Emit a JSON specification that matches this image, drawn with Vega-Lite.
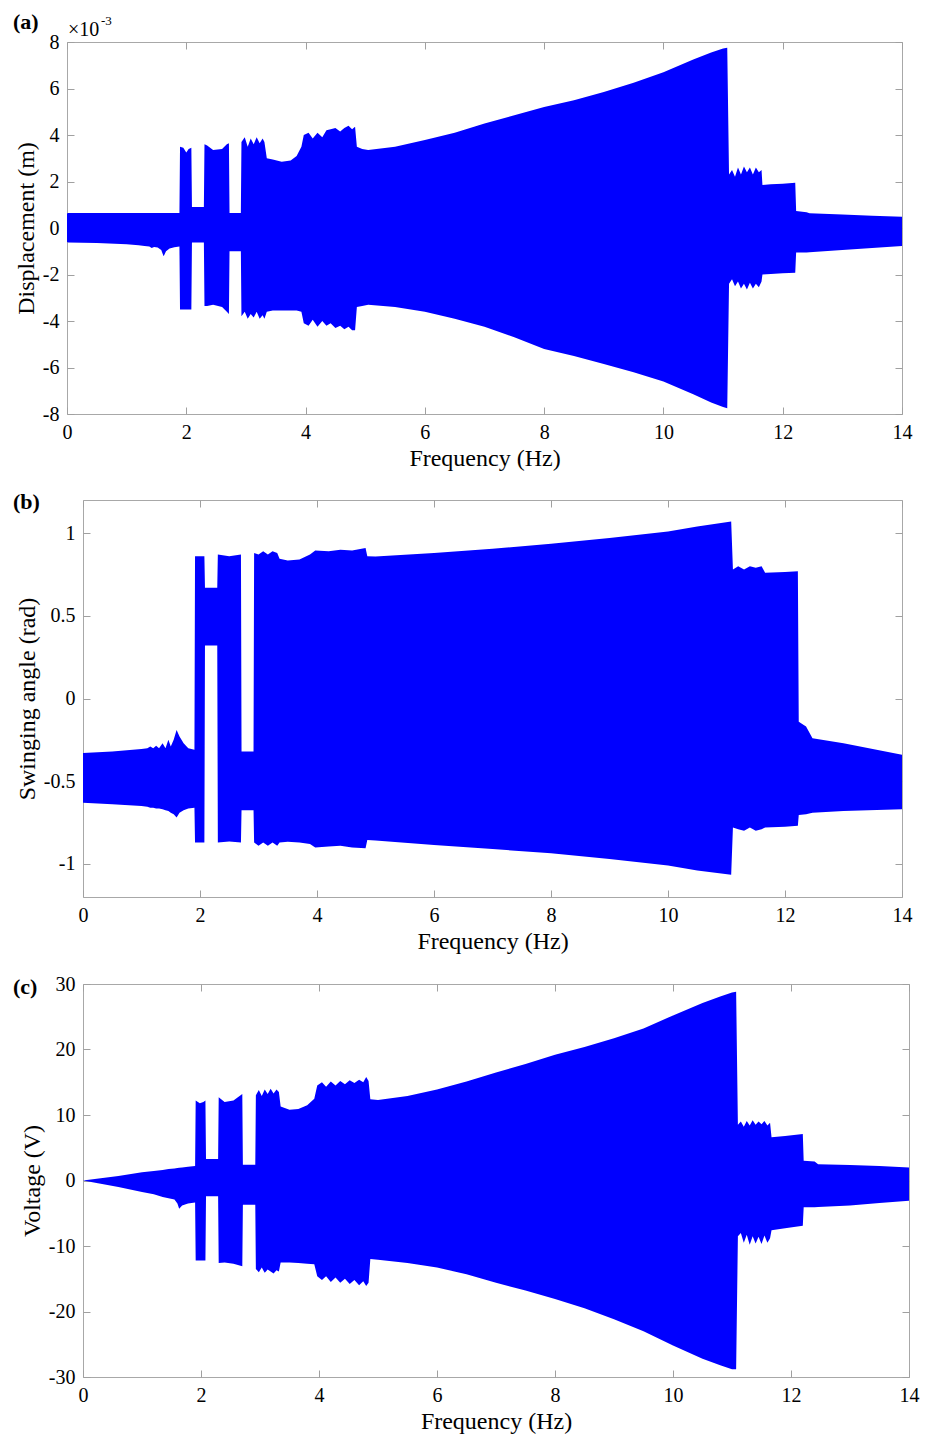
{
"$schema": "https://vega.github.io/schema/vega-lite/v6.json",
"padding": {"left": 11, "top": 10, "right": 5, "bottom": 5},
"background": "white",
"config": {
  "font": "Liberation Serif",
  "view": {"stroke": "#a8a8a8", "strokeWidth": 1},
  "axis": {"domain": false, "grid": false, "ticks": true, "tickSize": -7, "tickColor": "#a0a0a0", "tickWidth": 1,
    "labelFont": "Liberation Serif", "labelFontSize": 20, "labelColor": "#000000", "labelPadding": 15, "labelFlush": false,
    "titleFont": "Liberation Serif", "titleFontSize": 24, "titleFontWeight": "normal", "titleColor": "#000000", "titlePadding": 4,
    "labelExpr": "datum.value + ''"},
  "text": {"font": "Liberation Serif", "color": "#000000"}
},
"datasets": {
"a": [
{"f":0,"hi":0.62,"lo":-0.6},{"f":0.02,"hi":0.65,"lo":-0.62},{"f":0.5,"hi":0.65,"lo":-0.64},{"f":1.0,"hi":0.65,"lo":-0.7},{"f":1.2,"hi":0.65,"lo":-0.74},{"f":1.3,"hi":0.65,"lo":-0.77},{"f":1.38,"hi":0.65,"lo":-0.8},{"f":1.42,"hi":0.65,"lo":-0.86},{"f":1.46,"hi":0.65,"lo":-0.82},{"f":1.52,"hi":0.65,"lo":-0.84},{"f":1.58,"hi":0.65,"lo":-0.95},{"f":1.62,"hi":0.65,"lo":-1.22},{"f":1.66,"hi":0.65,"lo":-1.0},{"f":1.72,"hi":0.65,"lo":-0.88},{"f":1.8,"hi":0.65,"lo":-0.83},{"f":1.885,"hi":0.65,"lo":-0.8},
{"f":1.895,"hi":3.5,"lo":-3.5},{"f":1.95,"hi":3.45,"lo":-3.5},{"f":2.0,"hi":3.25,"lo":-3.5},{"f":2.04,"hi":3.4,"lo":-3.5},{"f":2.085,"hi":3.45,"lo":-3.5},
{"f":2.095,"hi":0.9,"lo":-0.62},{"f":2.295,"hi":0.9,"lo":-0.62},
{"f":2.305,"hi":3.6,"lo":-3.35},{"f":2.35,"hi":3.55,"lo":-3.35},{"f":2.45,"hi":3.35,"lo":-3.3},{"f":2.6,"hi":3.4,"lo":-3.4},{"f":2.68,"hi":3.6,"lo":-3.6},{"f":2.715,"hi":3.65,"lo":-3.7},
{"f":2.725,"hi":0.65,"lo":-1.0},{"f":2.915,"hi":0.65,"lo":-1.0},
{"f":2.925,"hi":3.7,"lo":-3.8},{"f":2.98,"hi":3.9,"lo":-3.6},{"f":3.03,"hi":3.5,"lo":-3.9},{"f":3.08,"hi":3.85,"lo":-3.7},{"f":3.13,"hi":3.6,"lo":-3.85},{"f":3.18,"hi":3.9,"lo":-3.6},{"f":3.23,"hi":3.65,"lo":-3.9},{"f":3.28,"hi":3.85,"lo":-3.75},{"f":3.31,"hi":3.7,"lo":-3.9},
{"f":3.35,"hi":3.0,"lo":-3.6},{"f":3.45,"hi":2.95,"lo":-3.55},{"f":3.6,"hi":2.85,"lo":-3.55},{"f":3.75,"hi":2.9,"lo":-3.55},{"f":3.85,"hi":3.1,"lo":-3.55},{"f":3.93,"hi":3.5,"lo":-3.6},
{"f":3.97,"hi":4.0,"lo":-4.1},{"f":4.05,"hi":4.1,"lo":-4.2},{"f":4.12,"hi":3.85,"lo":-3.95},{"f":4.2,"hi":4.1,"lo":-4.25},{"f":4.28,"hi":3.9,"lo":-4.0},{"f":4.35,"hi":4.2,"lo":-4.2},{"f":4.42,"hi":4.25,"lo":-4.1},{"f":4.5,"hi":4.3,"lo":-4.3},{"f":4.58,"hi":4.15,"lo":-4.2},{"f":4.65,"hi":4.3,"lo":-4.35},{"f":4.72,"hi":4.4,"lo":-4.25},{"f":4.78,"hi":4.25,"lo":-4.4},{"f":4.83,"hi":4.35,"lo":-4.4},
{"f":4.86,"hi":3.5,"lo":-3.4},{"f":4.95,"hi":3.4,"lo":-3.35},{"f":5.05,"hi":3.35,"lo":-3.3},{"f":5.5,"hi":3.5,"lo":-3.4},{"f":6.0,"hi":3.78,"lo":-3.6},{"f":6.5,"hi":4.1,"lo":-3.9},{"f":7.0,"hi":4.5,"lo":-4.25},{"f":7.5,"hi":4.85,"lo":-4.7},{"f":8.0,"hi":5.2,"lo":-5.2},{"f":8.5,"hi":5.5,"lo":-5.5},{"f":9.0,"hi":5.85,"lo":-5.85},{"f":9.5,"hi":6.25,"lo":-6.2},{"f":10.0,"hi":6.7,"lo":-6.6},{"f":10.5,"hi":7.25,"lo":-7.15},{"f":10.8,"hi":7.55,"lo":-7.5},{"f":11.0,"hi":7.72,"lo":-7.7},{"f":11.07,"hi":7.75,"lo":-7.75},
{"f":11.1,"hi":2.3,"lo":-2.4},{"f":11.15,"hi":2.5,"lo":-2.2},{"f":11.2,"hi":2.2,"lo":-2.5},{"f":11.25,"hi":2.6,"lo":-2.3},{"f":11.3,"hi":2.3,"lo":-2.6},{"f":11.35,"hi":2.65,"lo":-2.4},{"f":11.4,"hi":2.4,"lo":-2.65},{"f":11.45,"hi":2.6,"lo":-2.35},{"f":11.5,"hi":2.3,"lo":-2.6},{"f":11.55,"hi":2.6,"lo":-2.4},{"f":11.6,"hi":2.4,"lo":-2.55},{"f":11.645,"hi":2.5,"lo":-2.3},
{"f":11.66,"hi":1.85,"lo":-2.0},{"f":11.8,"hi":1.88,"lo":-1.98},{"f":12.0,"hi":1.9,"lo":-1.95},{"f":12.21,"hi":1.95,"lo":-1.92},
{"f":12.225,"hi":0.73,"lo":-1.05},{"f":12.4,"hi":0.68,"lo":-1.05},{"f":12.45,"hi":0.63,"lo":-1.04},{"f":13.0,"hi":0.58,"lo":-0.95},{"f":13.5,"hi":0.53,"lo":-0.86},{"f":14.0,"hi":0.48,"lo":-0.77}
],
"b": [
{"f":0,"hi":-0.33,"lo":-0.63},{"f":0.5,"hi":-0.32,"lo":-0.64},{"f":1.0,"hi":-0.305,"lo":-0.65},{"f":1.1,"hi":-0.3,"lo":-0.655},{"f":1.15,"hi":-0.29,"lo":-0.66},{"f":1.2,"hi":-0.3,"lo":-0.66},{"f":1.25,"hi":-0.285,"lo":-0.665},{"f":1.3,"hi":-0.3,"lo":-0.665},{"f":1.36,"hi":-0.27,"lo":-0.67},{"f":1.41,"hi":-0.3,"lo":-0.675},{"f":1.46,"hi":-0.25,"lo":-0.68},{"f":1.5,"hi":-0.29,"lo":-0.69},{"f":1.55,"hi":-0.25,"lo":-0.7},{"f":1.6,"hi":-0.19,"lo":-0.72},{"f":1.65,"hi":-0.23,"lo":-0.69},{"f":1.72,"hi":-0.27,"lo":-0.675},{"f":1.8,"hi":-0.3,"lo":-0.665},{"f":1.905,"hi":-0.31,"lo":-0.66},
{"f":1.915,"hi":0.86,"lo":-0.87},{"f":2.075,"hi":0.86,"lo":-0.87},
{"f":2.085,"hi":0.67,"lo":0.32},{"f":2.295,"hi":0.67,"lo":0.32},
{"f":2.305,"hi":0.87,"lo":-0.87},{"f":2.5,"hi":0.86,"lo":-0.865},{"f":2.7,"hi":0.87,"lo":-0.87},
{"f":2.71,"hi":-0.32,"lo":-0.675},{"f":2.915,"hi":-0.32,"lo":-0.675},
{"f":2.925,"hi":0.88,"lo":-0.87},{"f":3.0,"hi":0.87,"lo":-0.89},{"f":3.08,"hi":0.89,"lo":-0.87},{"f":3.16,"hi":0.87,"lo":-0.89},{"f":3.24,"hi":0.89,"lo":-0.87},{"f":3.32,"hi":0.88,"lo":-0.89},
{"f":3.36,"hi":0.845,"lo":-0.87},{"f":3.5,"hi":0.835,"lo":-0.866},{"f":3.7,"hi":0.84,"lo":-0.87},{"f":3.88,"hi":0.87,"lo":-0.88},{"f":3.97,"hi":0.895,"lo":-0.9},{"f":4.2,"hi":0.89,"lo":-0.895},{"f":4.4,"hi":0.9,"lo":-0.89},{"f":4.6,"hi":0.895,"lo":-0.9},{"f":4.83,"hi":0.91,"lo":-0.905},
{"f":4.86,"hi":0.86,"lo":-0.855},{"f":5.0,"hi":0.858,"lo":-0.858},{"f":6.0,"hi":0.88,"lo":-0.885},{"f":7.0,"hi":0.905,"lo":-0.91},{"f":8.0,"hi":0.935,"lo":-0.936},{"f":9.0,"hi":0.97,"lo":-0.97},{"f":10.0,"hi":1.01,"lo":-1.01},{"f":10.5,"hi":1.04,"lo":-1.04},{"f":11.08,"hi":1.07,"lo":-1.066},
{"f":11.11,"hi":0.78,"lo":-0.78},{"f":11.2,"hi":0.8,"lo":-0.79},{"f":11.3,"hi":0.78,"lo":-0.8},{"f":11.4,"hi":0.8,"lo":-0.78},{"f":11.5,"hi":0.79,"lo":-0.8},{"f":11.6,"hi":0.8,"lo":-0.79},{"f":11.66,"hi":0.76,"lo":-0.78},{"f":12.0,"hi":0.765,"lo":-0.775},{"f":12.22,"hi":0.77,"lo":-0.77},
{"f":12.235,"hi":-0.14,"lo":-0.705},{"f":12.36,"hi":-0.17,"lo":-0.7},{"f":12.47,"hi":-0.24,"lo":-0.69},{"f":13.0,"hi":-0.27,"lo":-0.68},{"f":14.0,"hi":-0.34,"lo":-0.67}
],
"c": [
{"f":0,"hi":0,"lo":0},{"f":0.3,"hi":0.35,"lo":-0.5},{"f":0.6,"hi":0.7,"lo":-1.0},{"f":1.0,"hi":1.25,"lo":-1.75},{"f":1.2,"hi":1.45,"lo":-2.1},{"f":1.35,"hi":1.6,"lo":-2.5},{"f":1.45,"hi":1.75,"lo":-2.7},{"f":1.55,"hi":1.85,"lo":-2.9},{"f":1.6,"hi":1.9,"lo":-3.5},{"f":1.63,"hi":1.95,"lo":-4.3},{"f":1.68,"hi":2.0,"lo":-3.8},{"f":1.78,"hi":2.1,"lo":-3.5},{"f":1.9,"hi":2.2,"lo":-3.35},
{"f":1.91,"hi":12.2,"lo":-12.2},{"f":1.98,"hi":11.8,"lo":-12.2},{"f":2.04,"hi":12.0,"lo":-12.2},{"f":2.075,"hi":12.2,"lo":-12.2},
{"f":2.085,"hi":3.3,"lo":-2.4},{"f":2.29,"hi":3.3,"lo":-2.4},
{"f":2.3,"hi":12.7,"lo":-12.6},{"f":2.4,"hi":12.0,"lo":-12.5},{"f":2.55,"hi":12.2,"lo":-12.7},{"f":2.7,"hi":13.2,"lo":-13.1},
{"f":2.71,"hi":2.4,"lo":-3.7},{"f":2.92,"hi":2.4,"lo":-3.7},
{"f":2.93,"hi":13.0,"lo":-13.5},{"f":2.98,"hi":13.8,"lo":-14.0},{"f":3.03,"hi":12.9,"lo":-13.3},{"f":3.08,"hi":13.9,"lo":-14.1},{"f":3.13,"hi":13.2,"lo":-13.6},{"f":3.18,"hi":14.0,"lo":-13.9},{"f":3.23,"hi":13.3,"lo":-14.2},{"f":3.28,"hi":13.9,"lo":-13.7},{"f":3.32,"hi":13.5,"lo":-13.9},
{"f":3.35,"hi":11.3,"lo":-12.5},{"f":3.5,"hi":10.8,"lo":-12.5},{"f":3.65,"hi":10.9,"lo":-12.6},{"f":3.8,"hi":11.5,"lo":-12.7},{"f":3.92,"hi":12.5,"lo":-12.8},
{"f":3.97,"hi":14.5,"lo":-14.6},{"f":4.05,"hi":15.0,"lo":-15.2},{"f":4.12,"hi":14.3,"lo":-14.6},{"f":4.2,"hi":15.1,"lo":-15.5},{"f":4.28,"hi":14.5,"lo":-14.8},{"f":4.36,"hi":15.2,"lo":-15.6},{"f":4.44,"hi":14.7,"lo":-15.0},{"f":4.52,"hi":15.3,"lo":-15.8},{"f":4.6,"hi":14.9,"lo":-15.2},{"f":4.68,"hi":15.4,"lo":-16.0},{"f":4.75,"hi":15.0,"lo":-15.4},{"f":4.8,"hi":15.8,"lo":-16.1},{"f":4.84,"hi":15.2,"lo":-15.6},
{"f":4.87,"hi":12.4,"lo":-12.0},{"f":5.0,"hi":12.3,"lo":-12.1},{"f":5.5,"hi":12.9,"lo":-12.6},{"f":6.0,"hi":13.9,"lo":-13.3},{"f":6.5,"hi":15.1,"lo":-14.3},{"f":7.0,"hi":16.5,"lo":-15.6},{"f":7.5,"hi":17.8,"lo":-16.8},{"f":8.0,"hi":19.2,"lo":-18.1},{"f":8.5,"hi":20.4,"lo":-19.5},{"f":9.0,"hi":21.7,"lo":-21.2},{"f":9.5,"hi":23.2,"lo":-23.0},{"f":10.0,"hi":25.2,"lo":-25.2},{"f":10.5,"hi":27.1,"lo":-27.2},{"f":10.8,"hi":28.1,"lo":-28.2},{"f":11.0,"hi":28.7,"lo":-28.8},{"f":11.07,"hi":28.8,"lo":-28.8},
{"f":11.1,"hi":8.5,"lo":-8.5},{"f":11.15,"hi":9.0,"lo":-8.0},{"f":11.2,"hi":8.2,"lo":-9.5},{"f":11.25,"hi":9.1,"lo":-8.3},{"f":11.3,"hi":8.4,"lo":-9.8},{"f":11.35,"hi":9.2,"lo":-8.5},{"f":11.4,"hi":8.5,"lo":-9.6},{"f":11.45,"hi":9.0,"lo":-8.6},{"f":11.5,"hi":8.6,"lo":-9.7},{"f":11.55,"hi":9.1,"lo":-8.4},{"f":11.6,"hi":8.4,"lo":-9.5},{"f":11.645,"hi":8.8,"lo":-8.8},
{"f":11.67,"hi":6.6,"lo":-7.6},{"f":11.9,"hi":6.8,"lo":-7.3},{"f":12.2,"hi":7.1,"lo":-6.9},
{"f":12.215,"hi":3.0,"lo":-4.1},{"f":12.4,"hi":2.9,"lo":-4.1},{"f":12.46,"hi":2.5,"lo":-4.05},{"f":13.0,"hi":2.35,"lo":-3.8},{"f":13.5,"hi":2.2,"lo":-3.45},{"f":14.0,"hi":2.0,"lo":-3.1}
],
"spacer": [{"s": 0}],
"ta": [{"t": "(a)"}],
"tb": [{"t": "(b)"}],
"tc": [{"t": "(c)"}],
"tx": [{"t": "×10"}],
"te": [{"t": "-3"}]
},
"spacing": 19,
"vconcat": [
{"spacing": 0, "hconcat": [
  {"width": 1, "height": 1, "view": {"stroke": null}, "data": {"name": "spacer"}, "mark": {"type": "point", "opacity": 0, "size": 1}},
  {"width": 835, "height": 372,
   "layer": [
    {"data": {"name": "a"}, "mark": {"type": "area", "color": "#0000ff", "interpolate": "linear"},
     "encoding": {
      "x": {"field": "f", "type": "quantitative", "scale": {"domain": [0, 14], "nice": false, "zero": false}, "axis": {"values": [0,2,4,6,8,10,12,14], "title": "Frequency (Hz)"}},
      "y": {"field": "hi", "type": "quantitative", "scale": {"domain": [-8, 8], "nice": false}, "axis": {"values": [-8,-6,-4,-2,0,2,4,6,8], "title": "Displacement (m)"}},
      "y2": {"field": "lo"}}},
    {"data": {"name": "a"}, "mark": {"type": "point", "opacity": 0},
     "encoding": {
      "x": {"field": "f", "type": "quantitative", "axis": {"orient": "top", "values": [0,2,4,6,8,10,12,14], "labels": false, "title": null}},
      "y": {"field": "hi", "type": "quantitative", "axis": {"orient": "right", "values": [-8,-6,-4,-2,0,2,4,6,8], "labels": false, "title": null}}}},
    {"data": {"name": "ta"}, "mark": {"type": "text", "align": "left", "baseline": "alphabetic", "dx": -54, "dy": -13, "fontSize": 22, "fontWeight": "bold"},
     "encoding": {"x": {"datum": 0, "type": "quantitative", "axis": null}, "y": {"datum": 8, "type": "quantitative", "axis": null}, "text": {"field": "t"}}},
    {"data": {"name": "tx"}, "mark": {"type": "text", "align": "left", "baseline": "alphabetic", "dx": 1, "dy": -6, "fontSize": 20},
     "encoding": {"x": {"datum": 0, "type": "quantitative", "axis": null}, "y": {"datum": 8, "type": "quantitative", "axis": null}, "text": {"field": "t"}}},
    {"data": {"name": "te"}, "mark": {"type": "text", "align": "left", "baseline": "alphabetic", "dx": 34, "dy": -17, "fontSize": 13},
     "encoding": {"x": {"datum": 0, "type": "quantitative", "axis": null}, "y": {"datum": 8, "type": "quantitative", "axis": null}, "text": {"field": "t"}}}
   ],
   "resolve": {"axis": {"x": "independent", "y": "independent"}}}
]},
{"spacing": 0, "hconcat": [
  {"width": 1, "height": 1, "view": {"stroke": null}, "data": {"name": "spacer"}, "mark": {"type": "point", "opacity": 0, "size": 1}},
  {"width": 819, "height": 397,
   "layer": [
    {"data": {"name": "b"}, "mark": {"type": "area", "color": "#0000ff", "interpolate": "linear"},
     "encoding": {
      "x": {"field": "f", "type": "quantitative", "scale": {"domain": [0, 14], "nice": false, "zero": false}, "axis": {"values": [0,2,4,6,8,10,12,14], "title": "Frequency (Hz)"}},
      "y": {"field": "hi", "type": "quantitative", "scale": {"domain": [-1.2, 1.2], "nice": false}, "axis": {"values": [-1,-0.5,0,0.5,1], "title": "Swinging angle (rad)"}},
      "y2": {"field": "lo"}}},
    {"data": {"name": "b"}, "mark": {"type": "point", "opacity": 0},
     "encoding": {
      "x": {"field": "f", "type": "quantitative", "axis": {"orient": "top", "values": [0,2,4,6,8,10,12,14], "labels": false, "title": null}},
      "y": {"field": "hi", "type": "quantitative", "axis": {"orient": "right", "values": [-1,-0.5,0,0.5,1], "labels": false, "title": null}}}},
    {"data": {"name": "tb"}, "mark": {"type": "text", "align": "left", "baseline": "alphabetic", "dx": -70, "dy": 9, "fontSize": 22, "fontWeight": "bold"},
     "encoding": {"x": {"datum": 0, "type": "quantitative", "axis": null}, "y": {"datum": 1.2, "type": "quantitative", "axis": null}, "text": {"field": "t"}}}
   ],
   "resolve": {"axis": {"x": "independent", "y": "independent"}}}
]},
{"spacing": 0, "hconcat": [
  {"width": 1, "height": 1, "view": {"stroke": null}, "data": {"name": "spacer"}, "mark": {"type": "point", "opacity": 0, "size": 1}},
  {"width": 826, "height": 393,
   "layer": [
    {"data": {"name": "c"}, "mark": {"type": "area", "color": "#0000ff", "interpolate": "linear"},
     "encoding": {
      "x": {"field": "f", "type": "quantitative", "scale": {"domain": [0, 14], "nice": false, "zero": false}, "axis": {"values": [0,2,4,6,8,10,12,14], "title": "Frequency (Hz)"}},
      "y": {"field": "hi", "type": "quantitative", "scale": {"domain": [-30, 30], "nice": false}, "axis": {"values": [-30,-20,-10,0,10,20,30], "title": "Voltage (V)"}},
      "y2": {"field": "lo"}}},
    {"data": {"name": "c"}, "mark": {"type": "point", "opacity": 0},
     "encoding": {
      "x": {"field": "f", "type": "quantitative", "axis": {"orient": "top", "values": [0,2,4,6,8,10,12,14], "labels": false, "title": null}},
      "y": {"field": "hi", "type": "quantitative", "axis": {"orient": "right", "values": [-30,-20,-10,0,10,20,30], "labels": false, "title": null}}}},
    {"data": {"name": "tc"}, "mark": {"type": "text", "align": "left", "baseline": "alphabetic", "dx": -70, "dy": 10, "fontSize": 22, "fontWeight": "bold"},
     "encoding": {"x": {"datum": 0, "type": "quantitative", "axis": null}, "y": {"datum": 30, "type": "quantitative", "axis": null}, "text": {"field": "t"}}}
   ],
   "resolve": {"axis": {"x": "independent", "y": "independent"}}}
]}
]
}
